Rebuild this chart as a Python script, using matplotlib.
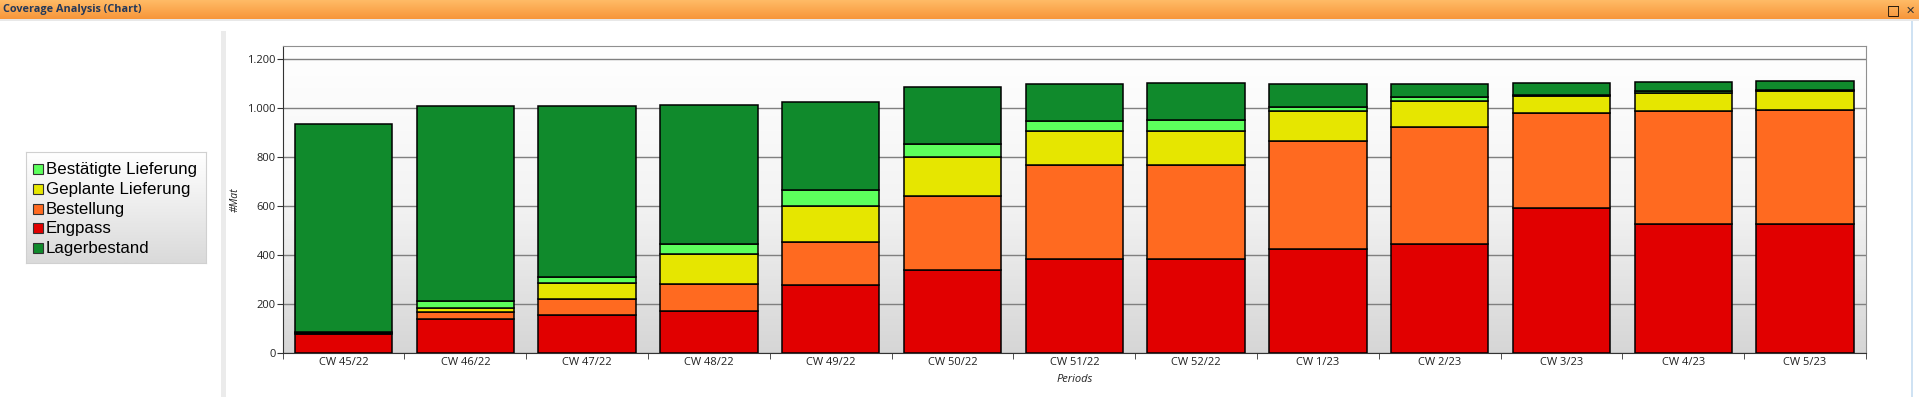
import numpy as np
import matplotlib
matplotlib.use('Agg')
import matplotlib.pyplot as plt
from matplotlib.patches import Rectangle
from matplotlib.colors import LinearSegmentedColormap

# data (#Mat per period)
periods = ['CW 45/22', 'CW 46/22', 'CW 47/22', 'CW 48/22', 'CW 49/22', 'CW 50/22', 'CW 51/22',
           'CW 52/22', 'CW 1/23', 'CW 2/23', 'CW 3/23', 'CW 4/23', 'CW 5/23']
engpass = [78, 139, 155, 171, 278, 339, 384, 384, 425, 445, 592, 527, 527]
bestellung = [3, 31, 65, 111, 175, 302, 383, 383, 440, 478, 388, 461, 465]
geplant = [2, 16, 66, 122, 147, 159, 139, 139, 123, 106, 69, 77, 78]
bestaetigt = [2, 26, 27, 41, 65, 53, 44, 48, 19, 16, 7, 7, 6]
lager = [850, 796, 699, 571, 360, 233, 148, 148, 91, 53, 46, 38, 38]

series = [('Engpass', engpass, '#e10000'),
          ('Bestellung', bestellung, '#ff6a20'),
          ('Geplante Lieferung', geplant, '#e6e600'),
          ('Bestätigte Lieferung', bestaetigt, '#5cff5c'),
          ('Lagerbestand', lager, '#108a2c')]
legend_order = ['Bestätigte Lieferung', 'Geplante Lieferung', 'Bestellung', 'Engpass', 'Lagerbestand']

W, H = 1919, 397
fig = plt.figure(figsize=(W / 100, H / 100), dpi=100)
fig.patch.set_facecolor('white')

def box(x0, y0, x1, y1):
    # pixel box (top-left origin) -> figure fraction rect
    return [x0 / W, 1 - y1 / H, (x1 - x0) / W, (y1 - y0) / H]

# title bar
tb = fig.add_axes(box(0, 0, W, 19))
cm_title = LinearSegmentedColormap.from_list('t', ['#f7963a', '#ffbb66'])
tb.imshow(np.linspace(0, 1, 50).reshape(-1, 1), cmap=cm_title, aspect='auto', extent=[0, 1, 0, 1], origin='lower')
tb.set_xlim(0, 1); tb.set_ylim(0, 1); tb.axis('off')
tb.text(3 / W, 0.5, 'Coverage Analysis (Chart)', fontsize=7.8, fontweight='bold', color='#24395a',
        va='center', ha='left', family='Open Sans')
tb.text(1893 / W, 0.45, '□', fontsize=10, color='black', va='center', ha='center', family='DejaVu Sans')
tb.text(1910 / W, 0.45, '✕', fontsize=8, color='#333333', va='center', ha='center', family='DejaVu Sans')
fig.add_artist(Rectangle((0, 1 - 21 / H), 1, 2 / H, transform=fig.transFigure, color='#e8e8e8', lw=0))

# panel strips
fig.add_artist(Rectangle((221 / W, 0), 5 / W, 1 - 31 / H, transform=fig.transFigure, color='#ebebeb', lw=0))
fig.add_artist(Rectangle((1911 / W, 0), 2 / W, 1 - 21 / H, transform=fig.transFigure, color='#cfe2f3', lw=0))

# legend box
lg = fig.add_axes(box(26, 152, 206, 263))
cm_leg = LinearSegmentedColormap.from_list('l', ['#ffffff', '#dadada'])
lg.imshow(np.linspace(0, 1, 50).reshape(-1, 1), cmap=cm_leg, aspect='auto', extent=[0, 180, 0, 111], origin='lower')
lg.set_xlim(0, 180); lg.set_ylim(111, 0)
lg.set_xticks([]); lg.set_yticks([])
for s in lg.spines.values():
    s.set_color('#d0d0d0')
colors = {name: c for name, _, c in series}
for i, name in enumerate(legend_order):
    yc = 17 + i * 19.8
    lg.add_patch(Rectangle((6.5, yc - 5), 10, 10, facecolor=colors[name], edgecolor='#333333', lw=0.8))
    lg.text(20, yc + 0.5, name, fontsize=12.2, va='center', ha='left', family='Liberation Sans', color='black')

# main plot
ax = fig.add_axes(box(282.7, 46, 1866, 353.3))
x = np.arange(len(periods))
ymax = 1255
cm_bg = LinearSegmentedColormap.from_list('b', ['#d6d6d6', '#f4f4f4', '#ffffff'])
ax.imshow(np.linspace(0, 1, 100).reshape(-1, 1), cmap=cm_bg, aspect='auto',
          extent=[-0.5, len(periods) - 0.5, 0, ymax], origin='lower', zorder=0)
bottom = np.zeros(len(periods))
for name, vals, c in series:
    ax.bar(x, vals, 0.8, bottom=bottom, color=c, edgecolor='black', linewidth=1.1, zorder=3, label=name)
    bottom += np.array(vals)

ax.set_xlim(-0.5, len(periods) - 0.5)
ax.set_ylim(0, ymax)
ax.set_yticks(range(0, 1201, 200))
ax.set_yticklabels(['0', '200', '400', '600', '800', '1.000', '1.200'], fontsize=8, family='Open Sans', color='#222222')
ax.yaxis.grid(True, color='#808080', lw=1, zorder=1)
ax.set_axisbelow(True)
ax.set_xticks(x)
ax.set_xticklabels(periods, fontsize=8, family='Open Sans', color='#222222')
ax.tick_params(axis='x', length=0, pad=3)
ax.set_xticks(np.arange(-0.5, len(periods)), minor=True)
ax.tick_params(axis='x', which='minor', length=4, color='#333333')
ax.tick_params(axis='y', length=4, color='#333333', pad=1)
for side in ['top', 'right']:
    ax.spines[side].set_color('#909090')
for side in ['left', 'bottom']:
    ax.spines[side].set_color('#333333')
ax.set_ylabel('#Mat', fontsize=7.5, style='italic', family='Open Sans', color='#222222')
ax.yaxis.set_label_coords(-0.0263, 0.5)
ax.set_xlabel('Periods', fontsize=8, style='italic', family='Open Sans', labelpad=4, color='#222222')

fig.savefig('out.png', dpi=100)
